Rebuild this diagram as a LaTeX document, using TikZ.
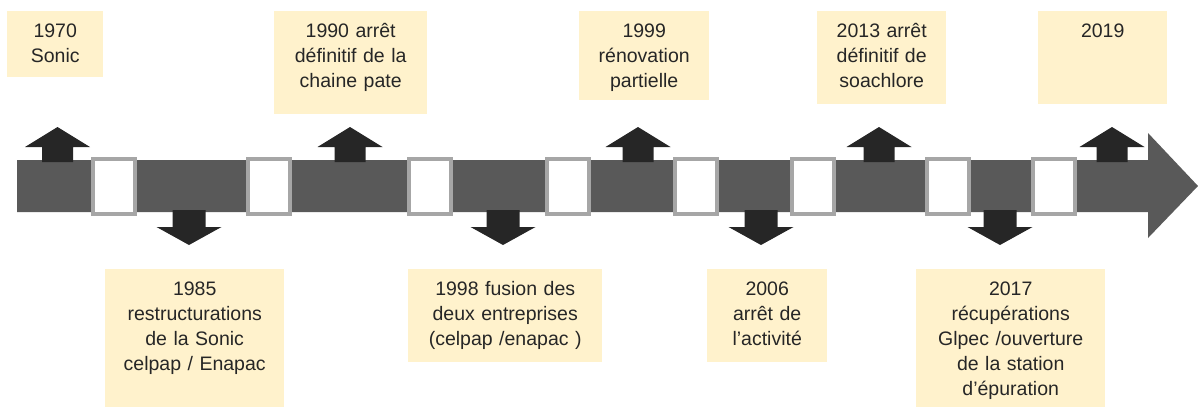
\documentclass[tikz,border=0pt]{standalone}
\usepackage{fontspec}
\setmainfont{Liberation Sans}
\usepackage{tikz}
\usetikzlibrary{positioning}
\definecolor{barGray}{HTML}{595959}
\definecolor{arrDark}{HTML}{262626}
\definecolor{slotEdge}{HTML}{A6A6A6}
\definecolor{noteFill}{HTML}{FFF2CC}

\begin{document}
\begin{tikzpicture}[x=1pt,y=-1pt]
	\tikzstyle{note}=[fill=noteFill, inner sep=0, anchor=north west]
	\tikzstyle{txt}=[inner sep=0, align=center, anchor=base, text=arrDark, font=\fontsize{19.5}{25}\selectfont]
	\tikzstyle{slot}=[draw=slotEdge, line width=4pt, fill=white, inner sep=0, minimum width=42pt, minimum height=55pt]
	\useasboundingbox (0,0) rectangle (1198,407);
	% timeline
	\fill[barGray] (17,160) -- (1148,160) -- (1148,133) -- (1198,186) -- (1148,238) -- (1148,212) -- (17,212) -- cycle;
	\foreach \x in {57.5,350,638,879,1112}
		\fill[arrDark] (\x-15.5,162) -- (\x-15.5,147) -- (\x-32.5,147) -- (\x,127) -- (\x+32.5,147) -- (\x+15.5,147) -- (\x+15.5,162) -- cycle;
	\foreach \x in {189,503,761,1000}
		\fill[arrDark] (\x-16.5,210) -- (\x-16.5,227) -- (\x-32.5,227) -- (\x,245) -- (\x+32.5,227) -- (\x+16.5,227) -- (\x+16.5,210) -- cycle;
	\foreach \x [count=\i] in {114,269,430,568,696,813,948,1054}
		\node[slot] (s\i) at (\x,186) {};
	% events above
	\node[note, minimum width=96pt, minimum height=66pt] (n1970) at (7,11) {};
	\node[txt, text width=96pt] (t1970) at ([yshift=-26pt]n1970.north) {1970\\Sonic};
	\node[note, minimum width=153pt, minimum height=103pt] (n1990) at (274,11) {};
	\node[txt, text width=153pt] (t1990) at ([yshift=-26pt]n1990.north) {1990 arrêt\\définitif de la\\chaine pate};
	\node[note, minimum width=130pt, minimum height=89pt] (n1999) at (579,11) {};
	\node[txt, text width=130pt] (t1999) at ([yshift=-26pt]n1999.north) {1999\\rénovation\\partielle};
	\node[note, minimum width=129pt, minimum height=93pt] (n2013) at (817,11) {};
	\node[txt, text width=129pt] (t2013) at ([yshift=-26pt]n2013.north) {2013 arrêt\\définitif de\\soachlore};
	\node[note, minimum width=129pt, minimum height=93pt] (n2019) at (1038,11) {};
	\node[txt, text width=129pt] (t2019) at ([yshift=-26pt]n2019.north) {2019};
	% events below
	\node[note, minimum width=179pt, minimum height=138pt] (n1985) at (105,269) {};
	\node[txt, text width=179pt] (t1985) at ([yshift=-26pt]n1985.north) {1985\\restructurations\\de la Sonic\\celpap / Enapac};
	\node[note, minimum width=194pt, minimum height=93pt] (n1998) at (408,269) {};
	\node[txt, text width=194pt] (t1998) at ([yshift=-26pt]n1998.north) {1998 fusion des\\deux entreprises\\(celpap /enapac )};
	\node[note, minimum width=120pt, minimum height=93pt] (n2006) at (707,269) {};
	\node[txt, text width=120pt] (t2006) at ([yshift=-26pt]n2006.north) {2006\\arrêt de\\l’activité};
	\node[note, minimum width=189pt, minimum height=138pt] (n2017) at (916,269) {};
	\node[txt, text width=189pt] (t2017) at ([yshift=-26pt]n2017.north) {2017\\récupérations\\Glpec /ouverture\\de la station\\d’épuration};
\end{tikzpicture}
\end{document}
